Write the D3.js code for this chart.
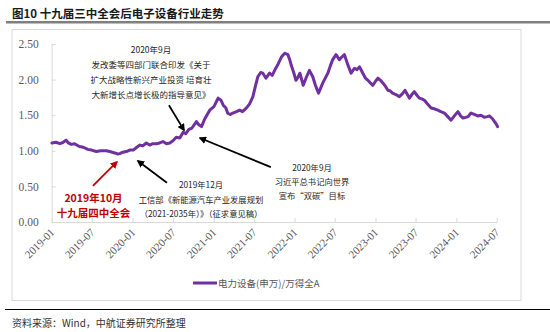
<!DOCTYPE html>
<html><head><meta charset="utf-8">
<script src="https://cdn.jsdelivr.net/npm/d3@7"></script>
<style>
html,body{margin:0;padding:0;background:#fff;}
svg{display:block;}
</style></head>
<body>
<svg id="c" width="550" height="332"></svg>
<script>
// ---- data ----
const dates = ["2019-01-02","2019-01-20","2019-02-07","2019-02-22","2019-03-07","2019-03-17","2019-03-30","2019-04-14","2019-05-06","2019-05-24","2019-06-13","2019-06-30","2019-07-21","2019-08-10","2019-09-05","2019-09-20","2019-10-12","2019-10-27","2019-11-04","2019-11-18","2019-12-04","2019-12-19","2020-01-04","2020-01-20","2020-02-03","2020-02-16","2020-03-03","2020-03-18","2020-04-01","2020-04-18","2020-05-02","2020-05-17","2020-06-02","2020-06-17","2020-07-01","2020-07-16","2020-08-01","2020-08-16","2020-08-28","2020-09-11","2020-09-25","2020-10-15","2020-10-25","2020-11-07","2020-11-22","2020-12-14","2021-01-02","2021-01-21","2021-02-03","2021-02-13","2021-02-25","2021-03-05","2021-03-17","2021-03-28","2021-04-14","2021-04-28","2021-05-11","2021-05-28","2021-06-12","2021-06-27","2021-07-09","2021-07-19","2021-08-01","2021-08-11","2021-08-25","2021-09-10","2021-09-22","2021-10-03","2021-10-19","2021-11-03","2021-11-18","2021-12-02","2021-12-10","2021-12-17","2021-12-28","2022-01-07","2022-01-16","2022-01-25","2022-02-09","2022-02-24","2022-03-09","2022-03-24","2022-04-05","2022-04-19","2022-05-08","2022-05-31","2022-06-12","2022-06-22","2022-07-07","2022-07-22","2022-08-03","2022-08-14","2022-08-29","2022-09-13","2022-09-28","2022-10-10","2022-10-21","2022-11-05","2022-11-17","2022-11-28","2022-12-10","2022-12-20","2023-01-02","2023-01-12","2023-01-24","2023-02-04","2023-02-16","2023-02-26","2023-03-09","2023-03-19","2023-04-03","2023-04-19","2023-05-02","2023-05-14","2023-05-25","2023-06-03","2023-06-14","2023-06-25","2023-07-07","2023-07-18","2023-07-29","2023-08-10","2023-08-23","2023-09-09","2023-09-24","2023-10-09","2023-10-23","2023-11-08","2023-11-23","2023-12-08","2023-12-23","2024-01-08","2024-01-20","2024-01-31","2024-02-12","2024-02-23","2024-03-07","2024-03-22","2024-04-06","2024-04-21","2024-05-06","2024-05-20","2024-05-29","2024-06-12","2024-06-21","2024-06-30","2024-07-05"];
const values = [1.11,1.12,1.10,1.12,1.15,1.11,1.09,1.10,1.06,1.05,1.02,1.01,0.99,1.00,1.00,0.99,0.97,0.955,0.96,0.98,0.99,1.01,1.01,1.05,1.08,1.07,1.11,1.08,1.10,1.10,1.11,1.13,1.10,1.11,1.14,1.19,1.18,1.26,1.24,1.30,1.32,1.41,1.37,1.34,1.45,1.57,1.62,1.74,1.71,1.64,1.60,1.53,1.51,1.53,1.55,1.57,1.55,1.60,1.66,1.76,1.92,2.04,2.10,2.09,2.02,2.09,2.06,2.13,2.22,2.32,2.37,2.35,2.28,2.20,2.10,1.99,2.03,2.09,1.92,2.04,2.13,2.04,1.92,1.81,1.95,2.09,2.20,2.28,2.35,2.28,2.32,2.35,2.21,2.09,2.16,2.14,2.18,2.09,2.02,1.99,1.95,1.92,1.98,2.02,1.99,1.95,1.90,1.85,1.84,1.81,1.79,1.76,1.80,1.85,1.79,1.74,1.79,1.83,1.78,1.74,1.73,1.71,1.66,1.60,1.59,1.57,1.55,1.53,1.48,1.43,1.49,1.55,1.49,1.46,1.47,1.48,1.53,1.51,1.49,1.50,1.47,1.48,1.49,1.45,1.41,1.37,1.34];
const yTicks = [0, 0.5, 1.0, 1.5, 2.0, 2.5];
const xTickLabels = ["2019-01","2019-07","2020-01","2020-07","2021-01","2021-07","2022-01","2022-07","2023-01","2023-07","2024-01","2024-07"];
const seriesName = "电力设备(申万)/万得全A";
const title = "图10  十九届三中全会后电子设备行业走势";
const source = "资料来源：Wind，中航证券研究所整理";
// annotation arrows in data space: [tailDate, tailValue, headDate, headValue]
const arrowsBlack = [
  ["2020-06-13",1.64,"2020-08-20",1.29],
  ["2020-06-04",0.55,"2020-01-25",0.857],
  ["2021-09-16",0.77,"2020-10-31",1.18]
];
const arrowsRed = [["2019-07-06",0.506,"2019-10-22",0.843]];
const note1 = ["2020年9月","发改委等四部门联合印发《关于","扩大战略性新兴产业投资 培育壮","大新增长点增长极的指导意见》"];
const note2 = ["2019年12月","工信部《新能源汽车产业发展规划","（2021-2035年）》（征求意见稿）"];
const note3 = ["2019年10月","十九届四中全会"];
const note4 = ["2020年9月","习近平总书记向世界","宣布“双碳”目标"];

// ---- drawing ----
const svg = d3.select("#c");
const parse = d3.timeParse("%Y-%m-%d");
const pm = d3.timeParse("%Y-%m");
const data = dates.map((d,i)=>({d:parse(d), v:values[i]}));
const x = d3.scaleTime().domain([pm("2019-01"), pm("2024-07")]).range([51.7, 496.7]);
const y = d3.scaleLinear().domain([0,2.5]).range([222,44]);
const purple = "#7030A0";
const serif = "'Liberation Serif','Times New Roman',serif";
const cjk = "'Noto Sans CJK SC','Noto Sans CJK JP',sans-serif";

// header
svg.append("text").attr("x",12).attr("y",18).attr("font-family",cjk).attr("font-weight",700)
  .attr("font-size",11.5).attr("fill","#1a1a1a").text(title);
svg.append("rect").attr("x",6).attr("y",21).attr("width",544).attr("height",2.5).attr("fill","#7f7f7f");
// chart box
svg.append("rect").attr("x",12).attr("y",29.5).attr("width",509).attr("height",271)
  .attr("fill","none").attr("stroke","#d9d9d9").attr("stroke-width",1);

// y axis
const yAxis = d3.axisLeft(y).tickValues(yTicks).tickFormat(d3.format(".2f")).tickSizeInner(-4).tickSizeOuter(0).tickPadding(13);
const gy = svg.append("g").attr("transform",`translate(${x.range()[0]},0)`).call(yAxis);
gy.select(".domain").attr("stroke","#d9d9d9");
gy.selectAll(".tick line").attr("stroke","#d9d9d9");
gy.selectAll("text").attr("font-family",serif).attr("font-size",11.5).attr("fill","#595959");

// x axis
const xAxis = d3.axisBottom(x).tickValues(xTickLabels.map(pm)).tickFormat(d3.timeFormat("%Y-%m")).tickSizeInner(-4).tickSizeOuter(0);
const gx = svg.append("g").attr("transform",`translate(0,${y(0)})`).call(xAxis);
gx.select(".domain").attr("stroke","#d9d9d9");
gx.selectAll(".tick line").attr("stroke","#d9d9d9");
gx.selectAll("text").attr("font-family",serif).attr("font-size",11).attr("fill","#595959")
  .attr("text-anchor","end").attr("dy",0).attr("y",0)
  .attr("transform","translate(3,11) rotate(-45)");

// line
const line = d3.line().x(d=>x(d.d)).y(d=>y(d.v)).curve(d3.curveLinear);
svg.append("path").datum(data).attr("d",line).attr("fill","none").attr("stroke",purple)
  .attr("stroke-width",3).attr("stroke-linejoin","round").attr("stroke-linecap","round");

// arrows
const defs = svg.append("defs");
function marker(id,color){
  defs.append("marker").attr("id",id).attr("viewBox","0 0 10 10").attr("refX",8).attr("refY",5)
    .attr("markerWidth",4.2).attr("markerHeight",4.2).attr("orient","auto")
    .append("path").attr("d","M0,0 L10,5 L0,10 z").attr("fill",color);
}
marker("ab","#000"); marker("ar","#C00000");
function drawArrows(list,color,id){
  svg.selectAll(null).data(list).enter().append("line")
    .attr("x1",d=>x(parse(d[0]))).attr("y1",d=>y(d[1]))
    .attr("x2",d=>x(parse(d[2]))).attr("y2",d=>y(d[3]))
    .attr("stroke",color).attr("stroke-width",1.8).attr("marker-end",`url(#${id})`);
}
drawArrows(arrowsBlack,"#000","ab");
drawArrows(arrowsRed,"#C00000","ar");

// notes
function note(lines,cx,ys,opts){
  const g = svg.append("g");
  lines.forEach((t,i)=>{
    g.append("text").attr("x",cx).attr("y",ys[i]).attr("text-anchor","middle")
      .attr("dominant-baseline","central").attr("font-family",opts.ff||cjk)
      .attr("font-size",opts.fs).attr("font-weight",opts.fw||400).attr("fill",opts.fill).text(t);
  });
}
note(note1,151,[49,64,79,93.5],{fs:8.5,fill:"#262626"});
note(note2,201,[184,198.5,213],{fs:8.3,fill:"#262626"});
note(note3,93.5,[197,212],{fs:10.5,fw:700,fill:"#C00000"});
note(note4,312,[167,181,195],{fs:8.3,fill:"#262626"});

// legend
svg.append("line").attr("x1",193).attr("x2",217).attr("y1",283).attr("y2",283)
  .attr("stroke",purple).attr("stroke-width",3);
svg.append("text").attr("x",218).attr("y",283).attr("dominant-baseline","central")
  .attr("font-family",cjk).attr("font-size",9.5).attr("fill","#595959").text(seriesName);

// footer
svg.append("rect").attr("x",5).attr("y",309).attr("width",545).attr("height",1).attr("fill","#000");
svg.append("text").attr("x",12).attr("y",322).attr("dominant-baseline","central")
  .attr("font-family",cjk).attr("font-size",10).attr("fill","#333").text(source);
</script>
</body></html>
